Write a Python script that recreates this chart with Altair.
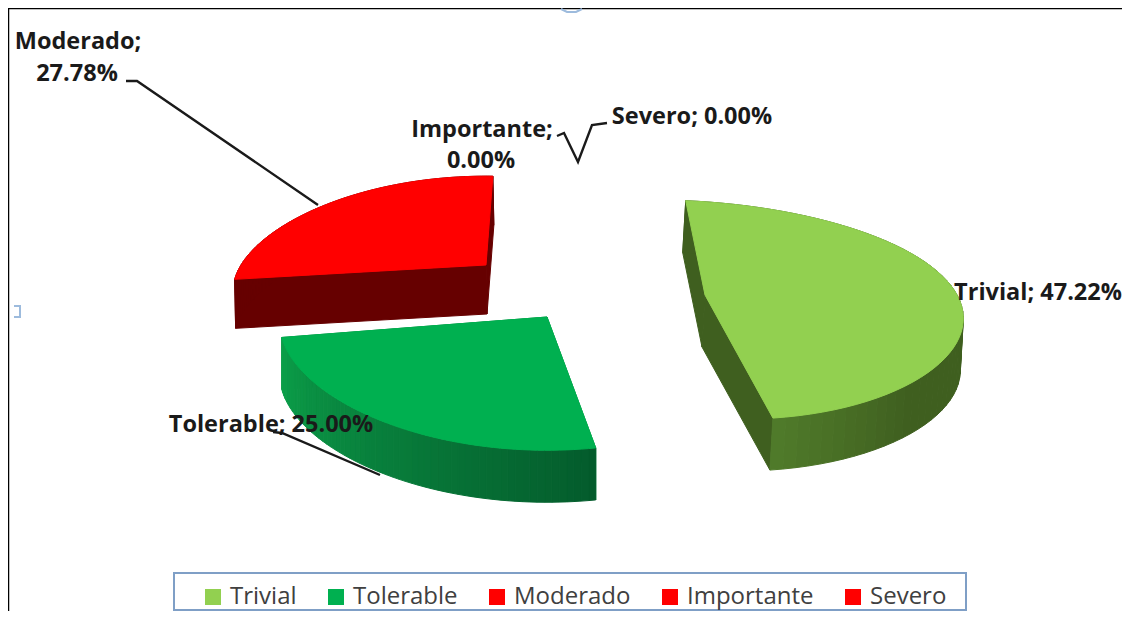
import math
import altair as alt
import pandas as pd

categories = ["Trivial", "Tolerable", "Moderado", "Importante", "Severo"]
shares = [47.22, 25.00, 27.78, 0.00, 0.00]
colors = ["#92D050", "#00B050", "#FF0000", "#FF0000", "#FF0000"]

# label text and its position (page pixels)
label_lines = ["Moderado;", "27.78%", "Importante;", "0.00%", "Severo; 0.00%", "Trivial; 47.22%", "Tolerable; 25.00%"]
label_x = [78, 77, 482, 481, 692, 1038, 271]
label_y = [42, 74, 130, 161, 117, 293, 425]

# perspective view of each exploded slice
view = {
    "Trivial": dict(cx=705, cy=295, rx=258, ry=106, kx=.05, ky=.137, s=.07, a0=-4.5,
                    d=(-3, 52), wall=("#4F7A2A", "#3F5F1F", "#3F5F1F"), side="#3F5F1F"),
    "Tolerable": dict(cx=547, cy=317, rx=267, ry=115, kx=.05, ky=.137, s=0, a0=170,
                      d=(0, 52), wall=("#0C9F4A", "#0A8C42", "#045C2C"), side="#0A8C42"),
    "Moderado": dict(cx=486, cy=265, rx=245, ry=101, kx=.25, ky=.137, s=0, a0=262,
                     d=(1, 49), wall=("#660000", "#660000", "#660000"), side="#660000"),
}


def project(c, theta):
    t = math.radians(theta)
    u, v = math.sin(t), -math.cos(t)
    x = c["rx"] * u / (1 - c["kx"] * v)
    y = c["ry"] * v / (1 - c["ky"] * v) + c["s"] * x
    return c["cx"] + x, c["cy"] + y


def mix(a, b, f):
    pa = [int(a[i:i + 2], 16) for i in (1, 3, 5)]
    pb = [int(b[i:i + 2], 16) for i in (1, 3, 5)]
    return "#%02x%02x%02x" % tuple(round(p + (q - p) * f) for p, q in zip(pa, pb))


top_rows, wall_rows = [], []


def add(rows, pid, pts, col):
    for i, (x, y) in enumerate(pts + pts[:1]):
        rows.append({"pid": pid, "seq": i, "x": x, "y": y, "col": col})


for cat, share, col in zip(categories, shares, colors):
    if share == 0:
        continue
    c = view[cat]
    sweep = share * 3.6
    n = 60
    dx, dy = c["d"]
    arc = [project(c, c["a0"] + sweep * i / n) for i in range(n + 1)]
    apex = (c["cx"], c["cy"])
    # radial walls
    for name, p in (("a", arc[0]), ("b", arc[-1])):
        add(wall_rows, f"{cat}-{name}",
            [apex, p, (p[0] + dx, p[1] + dy), (apex[0] + dx, apex[1] + dy)], c["side"])
    # curved wall, split so that its shading changes along the arc
    for i in range(n):
        p, q = arc[i], arc[i + 1]
        f = i / (n - 1)
        w0, w1, w2 = c["wall"]
        if cat == "Tolerable":
            shade = mix(w2, w0, f)
        else:
            shade = mix(w1, w0, max(0, (f - .8) / .2))
        add(wall_rows, f"{cat}-w{i:02d}",
            [p, q, (q[0] + dx, q[1] + dy), (p[0] + dx, p[1] + dy)], shade)
    add(top_rows, f"{cat}-top", [apex] + arc, col)

X = alt.X("x:Q", scale=alt.Scale(domain=[8, 1122], nice=False, zero=False), axis=None)
Y = alt.Y("y:Q", scale=alt.Scale(domain=[611, 8], nice=False, zero=False), axis=None)


def polys(rows):
    return alt.Chart(pd.DataFrame(rows)).mark_line(strokeWidth=1, interpolate="linear", clip=False).encode(
        x=X, y=Y,
        detail="pid:N",
        order="seq:Q",
        fill=alt.Fill("col:N", scale=None),
        stroke=alt.Stroke("col:N", scale=None),
    )


leaders = pd.DataFrame(
    [("m", 0, 126, 81), ("m", 1, 137, 81), ("m", 2, 318, 205),
     ("s", 0, 557, 136), ("s", 1, 564, 133), ("s", 2, 578, 162), ("s", 3, 592, 125), ("s", 4, 607, 123),
     ("t", 0, 273, 432), ("t", 1, 282, 433), ("t", 2, 380, 475)],
    columns=["pid", "seq", "x", "y"],
)
leader_layer = alt.Chart(leaders).mark_line(color="#1a1a1a", strokeWidth=2.4).encode(
    x=X, y=Y, detail="pid:N", order="seq:Q")

frame = pd.DataFrame({"pid": ["f"] * 3, "seq": [0, 1, 2], "x": [8.5, 8.5, 1122], "y": [611, 8.5, 8.5]})
frame_layer = alt.Chart(frame).mark_line(color="#000000", strokeWidth=1.5).encode(
    x=X, y=Y, detail="pid:N", order="seq:Q")

handles = pd.DataFrame(
    [("l", 0, 14, 306), ("l", 1, 20, 306), ("l", 2, 20, 317), ("l", 3, 14, 317),
     ("u", 0, 561, 9), ("u", 1, 567, 12), ("u", 2, 576, 12), ("u", 3, 582, 9)],
    columns=["pid", "seq", "x", "y"],
)
handle_layer = alt.Chart(handles).mark_line(color="#9DBBDD", strokeWidth=2).encode(
    x=X, y=Y, detail="pid:N", order="seq:Q")

box = pd.DataFrame({"x": [174], "x2": [966], "y": [573], "y2": [610]})
box_layer = alt.Chart(box).mark_rect(fill="#FFFFFF", stroke="#7F9FC6", strokeWidth=2).encode(
    x=X, x2="x2:Q", y=Y, y2="y2:Q")

labels = pd.DataFrame({"t": label_lines, "x": label_x, "y": label_y})
text_layer = alt.Chart(labels).mark_text(
    font="Open Sans", fontWeight="bold", fontSize=23.5, color="#1a1a1a", align="center", baseline="middle"
).encode(x=X, y=Y, text="t:N")

legend_data = pd.DataFrame({"cat": categories, "x": [700] * 5, "y": [300] * 5})
legend_layer = alt.Chart(legend_data).mark_square(size=0).encode(
    x=X, y=Y,
    color=alt.Color(
        "cat:N",
        scale=alt.Scale(domain=categories, range=colors),
        legend=alt.Legend(
            title=None, orient="none", legendX=193, legendY=577, direction="horizontal", columns=5,
            symbolType="square", symbolSize=256, symbolStrokeWidth=0, symbolOpacity=1,
            labelFont="Open Sans", labelFontSize=24, labelColor="#404040", labelOffset=5,
            columnPadding=27, padding=0, labelLimit=300,
        ),
    ),
)

chart = alt.layer(
    frame_layer, handle_layer, polys(wall_rows), polys(top_rows), leader_layer, text_layer, box_layer, legend_layer
).properties(
    width=1114, height=603, padding=0, autosize=alt.AutoSizeParams(type="none"), background="#FFFFFF"
).configure_view(stroke=None)

chart.save("out.html", embed_options={"renderer": "svg", "actions": False})
